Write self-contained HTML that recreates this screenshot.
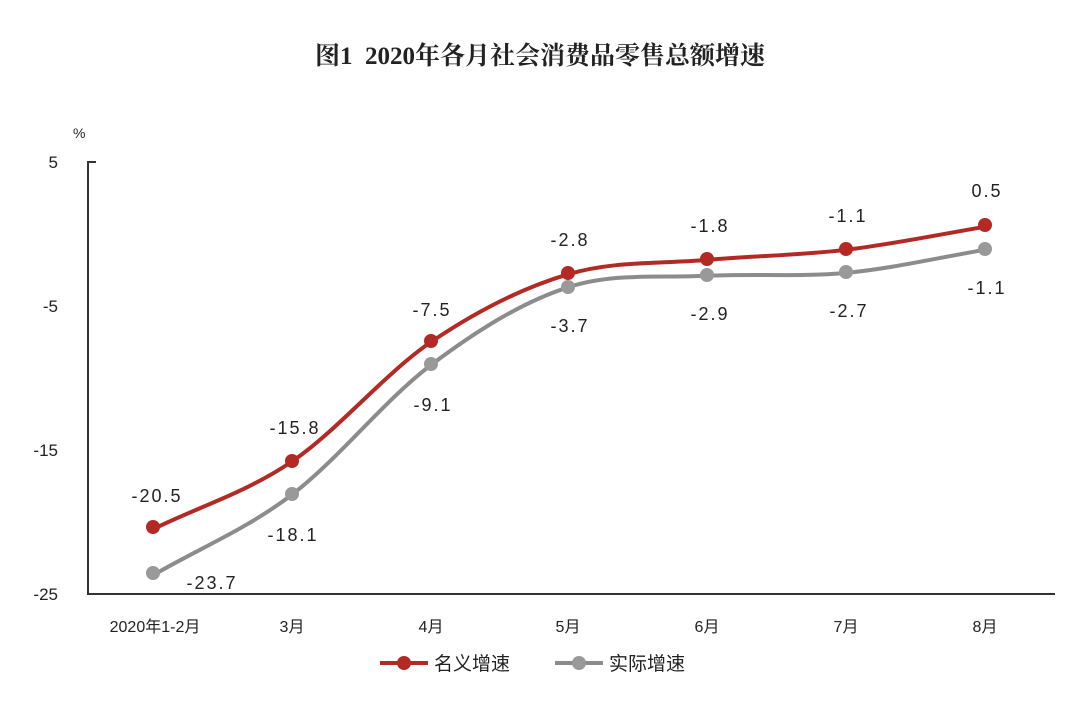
<!DOCTYPE html>
<html><head><meta charset="utf-8"><style>
html,body{margin:0;padding:0;background:#fff;}
svg text{font-family:"Liberation Sans","Noto Sans CJK SC",sans-serif;fill:#222;}
</style></head><body>
<svg width="1080" height="707" viewBox="0 0 1080 707" xmlns="http://www.w3.org/2000/svg">
<text x="540" y="64" text-anchor="middle" font-size="25" font-weight="bold" style="font-family:'Liberation Serif','Noto Serif CJK SC',serif">图1&#160;&#160;2020年各月社会消费品零售总额增速</text>
<text x="73" y="138" font-size="14">%</text>
<g font-size="17" text-anchor="end">
<text x="58" y="168">5</text>
<text x="58" y="312">-5</text>
<text x="58" y="456">-15</text>
<text x="58" y="600">-25</text>
</g>
<path d="M96 162 H88 V594 H1055" fill="none" stroke="#333" stroke-width="2"/>
<path d="M153 529.2 C199 506.6,246 492.7,292 461.5 C338 430.3,385 373.2,431 342 C477 310.8,522 288,568 274.3 C614 260.6,661 264,707 259.9 C753 255.8,800 255.3,846 249.8 C892 244.3,939 234.5,985 226.8" fill="none" stroke="#b22a23" stroke-width="4"/>
<path d="M153 575.3 C199 548.4,246 529.6,292 494.6 C338 459.6,385 399.6,431 365 C477 330.4,522 302.2,568 287.3 C614 272.4,661 278.2,707 275.8 C753 273.4,800 277.2,846 272.9 C892 268.6,939 257.5,985 249.8" fill="none" stroke="#8c8c8c" stroke-width="4"/>
<g fill="#b22a23">
<circle cx="153" cy="527" r="7"/><circle cx="292" cy="461" r="7"/><circle cx="431" cy="341" r="7"/><circle cx="568" cy="273" r="7"/><circle cx="707" cy="259" r="7"/><circle cx="846" cy="249" r="7"/><circle cx="985" cy="225" r="7"/>
</g>
<g fill="#999">
<circle cx="153" cy="573" r="7"/><circle cx="292" cy="494" r="7"/><circle cx="431" cy="364" r="7"/><circle cx="568" cy="287" r="7"/><circle cx="707" cy="275" r="7"/><circle cx="846" cy="272" r="7"/><circle cx="985" cy="249" r="7"/>
</g>
<g font-size="18" letter-spacing="2" text-anchor="middle">
<text x="157" y="502">-20.5</text>
<text x="295" y="434">-15.8</text>
<text x="432" y="316">-7.5</text>
<text x="570" y="246">-2.8</text>
<text x="710" y="232">-1.8</text>
<text x="848" y="222">-1.1</text>
<text x="987" y="197">0.5</text>
<text x="212" y="589">-23.7</text>
<text x="293" y="541">-18.1</text>
<text x="433" y="411">-9.1</text>
<text x="570" y="332">-3.7</text>
<text x="710" y="320">-2.9</text>
<text x="849" y="317">-2.7</text>
<text x="987" y="294">-1.1</text>
</g>
<g font-size="16" text-anchor="middle">
<text x="155" y="632">2020年1-2月</text>
<text x="292" y="632">3月</text>
<text x="431" y="632">4月</text>
<text x="568" y="632">5月</text>
<text x="707" y="632">6月</text>
<text x="846" y="632">7月</text>
<text x="985" y="632">8月</text>
</g>
<line x1="380" y1="663" x2="428" y2="663" stroke="#b22a23" stroke-width="4"/>
<circle cx="404" cy="663" r="7" fill="#b22a23"/>
<text x="434" y="670" font-size="19">名义增速</text>
<line x1="555" y1="663" x2="603" y2="663" stroke="#8c8c8c" stroke-width="4"/>
<circle cx="579" cy="663" r="7" fill="#999"/>
<text x="609" y="670" font-size="19">实际增速</text>
</svg>
</body></html>
